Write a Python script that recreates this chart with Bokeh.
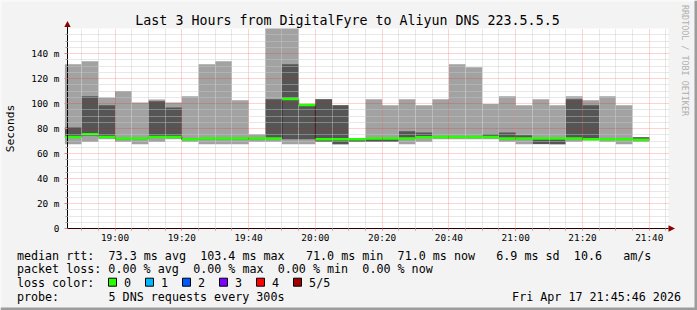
import re
import math
from datetime import datetime, timedelta
from bokeh.plotting import figure
from bokeh.models import (Range1d, FixedTicker, Label, BoxAnnotation, PolyAnnotation,
                          ColumnDataSource)
from bokeh.embed import file_html
from bokeh.resources import INLINE

# ---------------- data ----------------
TITLE = "Last 3 Hours from DigitalFyre to Aliyun DNS 223.5.5.5"
DAY = (2026, 4, 17)
RANGE_START = "18:45:46"
RANGE_END = "21:45:46"

end_times = ["18:50", "18:55", "19:00", "19:05", "19:10", "19:15", "19:20", "19:25",
             "19:30", "19:35", "19:40", "19:45", "19:50", "19:55", "20:00", "20:05",
             "20:10", "20:15", "20:20", "20:25", "20:30", "20:35", "20:40", "20:45",
             "20:50", "20:55", "21:00", "21:05", "21:10", "21:15", "21:20", "21:25",
             "21:30", "21:35", "21:40"]
# sorted ping values per 5-minute step (ms)
ping_min = [67.4, 69.3, 71.4, 69.3, 67.4, 69.3, 71.4, 69.3, 67.4, 67.4, 67.4, 69.3,
            69.3, 67.4, 67.4, 69.3, 67.4, 69.3, 69.3, 69.3, 67.4, 69.3, 71.4, 71.4,
            71.4, 71.4, 69.3, 67.4, 67.4, 67.4, 69.3, 70.5, 69.3, 67.4, 69.3]
ping_low = [73.0, 74.0, 72.5, 71.5, 71.5, 72.5, 72.5, 71.0, 71.5, 71.5, 71.5, 71.5,
            71.4, 71.4, 71.4, 69.3, 67.4, 69.3, 69.3, 69.3, 71.5, 72.5, 72.5, 72.5,
            72.5, 72.5, 71.5, 71.5, 67.7, 67.4, 71.5, 71.0, 71.0, 71.0, 71.0]
median = [73.3, 75.4, 73.3, 72.0, 72.0, 73.3, 73.3, 71.4, 72.0, 72.0, 72.0, 72.0,
          72.0, 103.7, 98.9, 71.4, 71.4, 71.5, 72.0, 72.0, 72.0, 73.0, 73.3, 73.3,
          73.3, 73.3, 72.0, 72.0, 72.0, 72.0, 72.0, 71.4, 71.4, 71.4, 71.0]
ping_high = [80.8, 105.8, 98.6, 72.5, 72.5, 101.8, 96.8, 72.0, 72.5, 72.5, 72.5, 72.5,
             103.4, 131.4, 99.5, 103.4, 98.6, 72.5, 72.5, 72.5, 77.8, 76.8, 74.0, 74.0,
             74.0, 75.4, 76.8, 74.6, 72.5, 72.5, 103.4, 98.6, 72.0, 72.0, 73.0]
ping_max = [131.4, 133.8, 104.8, 110.1, 100.8, 103.2, 100.8, 105.8, 131.4, 133.8, 102.6, 75.4,
            160.0, 160.0, 99.5, 103.4, 98.6, 72.5, 103.4, 98.6, 103.4, 98.6, 103.4, 131.4,
            129.0, 99.7, 105.8, 98.6, 103.4, 98.6, 105.8, 102.6, 105.8, 98.6, 73.0]

x_tick_labels = ["19:00", "19:20", "19:40", "20:00", "20:20", "20:40", "21:00", "21:20", "21:40"]
y_tick_values = [0, 20, 40, 60, 80, 100, 120, 140]
y_tick_labels = ["0", "20 m", "40 m", "60 m", "80 m", "100 m", "120 m", "140 m"]
Y_TOP = 160

legend_line1 = "median rtt:  73.3 ms avg  103.4 ms max   71.0 ms min  71.0 ms now   6.9 ms sd  10.6   am/s"
legend_line2 = "packet loss: 0.00 % avg  0.00 % max  0.00 % min  0.00 % now"
loss_title = "loss color:"
loss_labels = ["0", "1", "2", "3", "4", "5/5"]
loss_colors = ["#26ff00", "#00b8ff", "#0059ff", "#7e00ff", "#ff0000", "#a10000"]
probe_title = "probe:"
probe_text = "5 DNS requests every 300s"
stamp_text = "Fri Apr 17 21:45:46 2026"

# ---------------- helpers ----------------
def hm(s):
    parts = [int(v) for v in s.split(":")]
    while len(parts) < 3:
        parts.append(0)
    return datetime(*DAY, *parts)

def ms(dt):
    return (dt - datetime(1970, 1, 1)).total_seconds() * 1000.0

ends = [hm(t) for t in end_times]
starts = [e - timedelta(minutes=5) for e in ends]
x0 = hm(RANGE_START)
x1 = hm(RANGE_END)

W, H = 697, 310
PL, PR, PT, PB = 67, 668, 28, 228           # plot area in canvas pixels
MS_PER_PX = (ms(x1) - ms(x0)) / (PR - PL)
V_PER_PX = Y_TOP / (PB - PT)
xr = Range1d(x0 - timedelta(milliseconds=PL * MS_PER_PX),
             x0 + timedelta(milliseconds=(W - PL) * MS_PER_PX))
yr = Range1d(-(H - PB) * V_PER_PX, PB * V_PER_PX)
MONO = "DejaVu Sans Mono"

p = figure(width=W, height=H, x_axis_type="datetime", x_range=xr, y_range=yr,
           output_backend="svg", toolbar_location=None, min_border=0)
p.background_fill_color = "#f3f3f3"
p.border_fill_color = "#f3f3f3"
p.outline_line_color = None

# white plot area
bg = p.quad(left=[x0], right=[x1], bottom=[0], top=[Y_TOP], fill_color="#ffffff", line_color=None)
bg.level = "image"

src = ColumnDataSource(dict(left=starts, right=ends, pmin=ping_min, plow=ping_low,
                            med=median, phigh=ping_high, pmax=ping_max))
p.quad(left="left", right="right", bottom="pmin", top="pmax", source=src,
       fill_color="#a2a2a2", line_color=None)
p.quad(left="left", right="right", bottom="plow", top="phigh", source=src,
       fill_color="#555555", line_color=None)
p.step(x=starts + [ends[-1]], y=median + [median[-1]], mode="after",
       line_color="#202020", line_width=1)
p.segment(x0="left", x1="right", y0="med", y1="med", source=src,
          line_color=loss_colors[0], line_width=2.5)

# ---------------- axes / grid ----------------
xmaj = [ms(hm(t)) for t in x_tick_labels]
xmin = []
t = hm("18:50")
while t <= x1:
    if ms(t) not in xmaj:
        xmin.append(ms(t))
    t += timedelta(minutes=5)
p.xaxis.ticker = FixedTicker(ticks=xmaj, minor_ticks=xmin)
p.xaxis.major_label_overrides = {v: lab for v, lab in zip(xmaj, x_tick_labels)}
ymin_ticks = [v for v in range(5, Y_TOP, 5) if v % 20 != 0]
p.yaxis.ticker = FixedTicker(ticks=y_tick_values, minor_ticks=ymin_ticks)
p.yaxis.major_label_overrides = {v: lab for v, lab in zip(y_tick_values, y_tick_labels)}

p.xaxis.fixed_location = 0
p.yaxis.fixed_location = ms(x0)
p.xaxis.bounds = (ms(x0), ms(x1))
p.yaxis.bounds = (0, Y_TOP + 3)

for ax in (p.xaxis[0], p.yaxis[0]):
    ax.axis_line_color = "#000000"
    ax.axis_line_width = 1
    ax.major_tick_in = 0
    ax.minor_tick_in = 0
    ax.major_tick_out = 3
    ax.minor_tick_out = 2
    ax.major_tick_line_color = "#e08080"
    ax.minor_tick_line_color = "#a0a0a0"
    ax.major_label_text_font = MONO
    ax.major_label_text_font_size = "9.4px"
    ax.major_label_text_color = "#000000"
p.xaxis.major_tick_out = 2
p.xaxis.major_label_standoff = 1
p.yaxis.major_label_standoff = 5

for g in (p.xgrid[0], p.ygrid[0]):
    g.level = "guide"
    g.grid_line_color = "#ff0000"
    g.grid_line_alpha = 0.35
    g.grid_line_dash = "1 1"
    g.minor_grid_line_color = "#c8c8c8"
    g.minor_grid_line_alpha = 0.85
    g.minor_grid_line_dash = "1 1"
p.xgrid[0].cross_bounds = (0, Y_TOP)
p.ygrid[0].cross_bounds = (ms(x0), ms(x1))
p.xgrid[0].bounds = (ms(x0), ms(x1))
p.ygrid[0].bounds = (0, Y_TOP)

# ---------------- canvas-positioned decorations (frame == canvas) ----------------
def sx(px):
    return px

def sy(py):
    return H - py

def label(px, py, text, size, color="#000000", align="left", baseline="middle",
          angle=0.0, font=MONO):
    p.add_layout(Label(x=sx(px), y=sy(py), x_units="screen", y_units="screen",
                       text=text, text_font=font, text_font_size=size,
                       text_color=color, text_align=align, text_baseline=baseline,
                       angle=angle))

def poly(xs, ys, color):
    p.add_layout(PolyAnnotation(xs=[sx(v) for v in xs], ys=[sy(v) for v in ys],
                                xs_units="screen", ys_units="screen",
                                fill_color=color, fill_alpha=1, line_color=None))

arrow_color = "#8b0000"
poly([63.8, 67.0, 70.2], [26.5, 20.5, 26.5], arrow_color)
poly([668.0, 674.5, 668.0], [224.8, 228.0, 231.2], arrow_color)
# image border shading
poly([0, W, W, 0], [0, 0, 1, 1], "#fbfbfb")
poly([0, 1, 1, 0], [0, 0, H, H], "#fbfbfb")
poly([W - 3, W, W, W - 3], [0, 0, H, H], "#9c9c9c")
poly([0, W, W, 0], [H - 3, H - 3, H, H], "#9c9c9c")

label(347, 19.5, TITLE, "13.3px", align="center")
label(684, 60, "RRDTOOL / TOBI OETIKER", "8.4px", color="#b0b0b0", align="center",
      angle=-math.pi / 2)
label(10, 128, "Seconds", "11.3px", align="center", angle=math.pi / 2)

CW = 7.05
LX = 16.4
FS = "11.7px"
def legend_line(text, py):
    for m in re.finditer(r"\S+(?: \S+)*", text):
        label(LX + m.start() * CW, py, m.group(0), FS)

legend_line(legend_line1, 255)
legend_line(legend_line2, 268.5)
legend_line(loss_title, 282)
for i, (lab, col) in enumerate(zip(loss_labels, loss_colors)):
    bx = 108 + 37 * i
    p.add_layout(BoxAnnotation(left=sx(bx), right=sx(bx + 8), top=sy(277.7), bottom=sy(285.7),
                               left_units="screen", right_units="screen",
                               top_units="screen", bottom_units="screen",
                               fill_color=col, fill_alpha=1, line_color="#000000",
                               line_alpha=1, line_width=1))
    label(bx + 15.6, 282, lab, FS)
legend_line(probe_title, 296)
label(LX + 13 * CW, 296, probe_text, FS)
label(680.5, 296, stamp_text, FS, align="right")

open("out.html", "w").write(file_html(p, INLINE))
